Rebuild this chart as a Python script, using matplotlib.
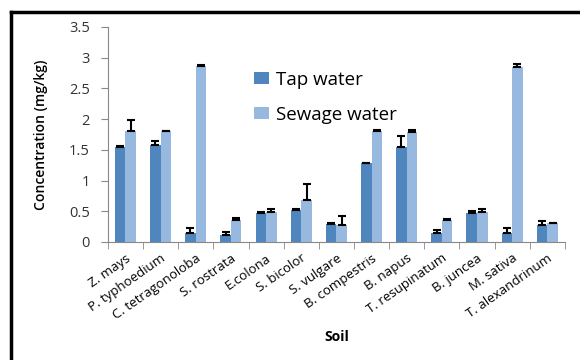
import numpy as np
import matplotlib.pyplot as plt
from matplotlib.lines import Line2D

plt.rcParams['font.family'] = ['Open Sans', 'DejaVu Sans']

species = ['Z. mays', 'P. typhoedium', 'C. tetragonoloba', 'S. rostrata', 'E.colona',
           'S. bicolor', 'S. vulgare', 'B. compestris', 'B. napus', 'T. resupinatum',
           'B. juncea', 'M. sativa', 'T. alexandrinum']
tap = [1.54, 1.58, 0.14, 0.12, 0.47, 0.52, 0.29, 1.28, 1.54, 0.14, 0.47, 0.14, 0.28]
tap_err = [0.03, 0.06, 0.09, 0.04, 0.02, 0.02, 0.02, 0.01, 0.18, 0.05, 0.03, 0.08, 0.06]
sewage = [1.81, 1.80, 2.86, 0.35, 0.48, 0.68, 0.28, 1.81, 1.79, 0.35, 0.48, 2.85, 0.30]
sewage_err = [0.18, 0.01, 0.02, 0.04, 0.05, 0.26, 0.14, 0.02, 0.04, 0.03, 0.05, 0.04, 0.01]

fig = plt.figure(figsize=(5.8, 3.6), dpi=100)
ax = fig.add_axes([0.186, 0.328, 0.788, 0.597])

x = np.arange(len(species))
w = 0.3
ekw = dict(elinewidth=1.5, capthick=1.5, ecolor='black')
ax.bar(x - w/2, tap, w, color='#4F86BE', label='Tap water',
       yerr=[np.zeros(len(tap)), tap_err], capsize=3, error_kw=ekw)
ax.bar(x + w/2, sewage, w, color='#97B8DF', label='Sewage water',
       yerr=[np.zeros(len(sewage)), sewage_err], capsize=3, error_kw=ekw)

ax.set_xlim(-0.5, len(species) - 0.5)
ax.set_ylim(0, 3.5)
ax.set_yticks(np.arange(0, 3.6, 0.5))
ax.set_yticklabels(['0', '0.5', '1', '1.5', '2', '2.5', '3', '3.5'], fontsize=10.5, color='#333333')
ax.set_xticks(x)
ax.set_xticklabels(species, rotation=35, ha='right', rotation_mode='anchor', fontsize=9.5)
ax.tick_params(axis='x', which='major', length=0, pad=7)
ax.set_xticks(np.arange(-0.5, len(species)), minor=True)
ax.tick_params(axis='x', which='minor', length=5, color='#888888')
ax.tick_params(axis='y', length=5, color='#888888', pad=8)

for s in ['top', 'right']:
    ax.spines[s].set_visible(False)
for s in ['left', 'bottom']:
    ax.spines[s].set_color('#888888')

ax.set_ylabel('Concentration (mg/kg)', fontsize=10, fontweight='semibold', labelpad=15)
ax.set_xlabel('Soil', fontsize=10, fontweight='bold', labelpad=6)

ax.legend(loc='upper left', bbox_to_anchor=(237/580, 1 - 54/360), bbox_transform=fig.transFigure,
          frameon=False, fontsize=13.5, labelspacing=0.9, handlelength=0.8, handleheight=0.6,
          handletextpad=0.4)

# frame lines
fig.add_artist(Line2D([11/580, 11/580], [0, 1 - 12/360], color='black', lw=2.5))
fig.add_artist(Line2D([11/580, 1], [1 - 12/360, 1 - 12/360], color='black', lw=2.5))

fig.savefig('out.png', dpi=100)
